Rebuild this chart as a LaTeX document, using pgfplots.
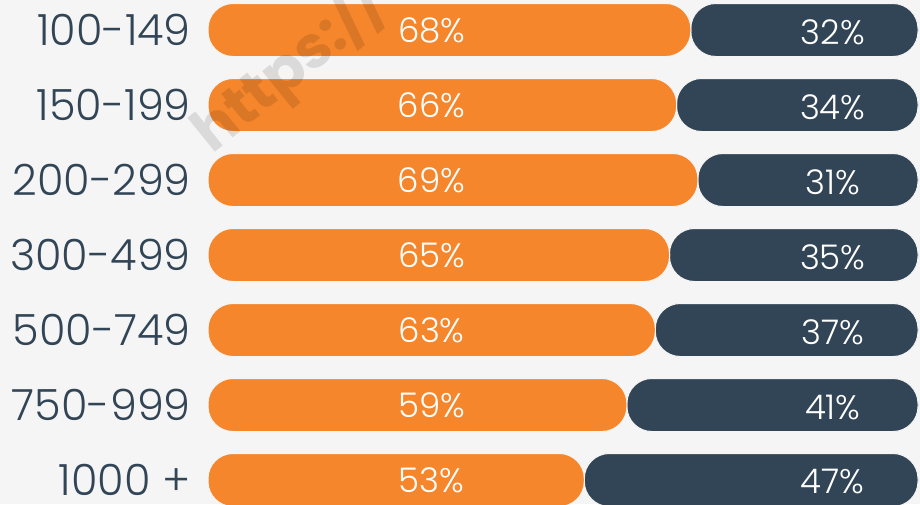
\documentclass[border=0pt]{standalone}
\usepackage{pgfplots}
\pgfplotsset{compat=1.18}
\usepackage{pgfplotstable}
\usepackage{fontspec}
\setmainfont{Poppins Light}
\newfontfamily\wmfont{Poppins}

\definecolor{bgc}{HTML}{F5F5F5}
\definecolor{orangec}{HTML}{F5862B}
\definecolor{darkc}{HTML}{324556}
\definecolor{labelc}{HTML}{324556}

% share of each segment per size band (percent)
\pgfplotstableread{
row a b
0 68 32
1 66 34
2 69 31
3 65 35
4 63 37
5 59 41
6 53 47
}\shares

\begin{document}
\begin{tikzpicture}
\useasboundingbox (0,0) rectangle (920pt,504pt);
\fill[bgc] (0,0) rectangle (920pt,504pt);

\pgfplotsset{
  bandaxis/.style={
    at={(208pt,0pt)}, anchor=south west,
    scale only axis, width=710pt, height=504pt,
    xmin=0, xmax=100, ymin=-0.4, ymax=6.32, y dir=reverse,
  }
}

% stacked pill bars
\begin{axis}[
  bandaxis,
  xbar stacked, bar width=53pt,
  axis line style={draw=none}, major tick length=0pt,
  xtick=\empty, ytick={0,...,6},
  yticklabels={100-149,150-199,200-299,300-499,500-749,750-999,1000 +},
  yticklabel style={font=\fontsize{43}{43}\selectfont, text=labelc,
    anchor=east, inner sep=0pt, xshift=-17pt},
]
\addplot[fill=orangec, draw=bgc, line width=1pt, rounded corners=25pt]
  table[x=a, y=row]{\shares};
\addplot[fill=darkc, draw=bgc, line width=1pt, rounded corners=25pt]
  table[x=b, y=row]{\shares};
\end{axis}

% watermark
\node[rotate=39, anchor=base west, font=\wmfont\bfseries\fontsize{59}{59}\selectfont,
  text=black, opacity=0.11, inner sep=0pt] at (212pt,349pt) {https://};

% value labels
\begin{axis}[bandaxis, hide axis, clip=false]
\addplot[draw=none, mark=none, point meta=explicit symbolic,
  nodes near coords={\pgfplotspointmeta\%}, nodes near coords align=center,
  every node near coord/.append style={font=\fontsize{34}{34}\selectfont, text=white}]
  table[x expr=31.5, y=row, meta=a]{\shares};
\addplot[draw=none, mark=none, point meta=explicit symbolic,
  nodes near coords={\pgfplotspointmeta\%}, nodes near coords align=center,
  every node near coord/.append style={font=\fontsize{34}{34}\selectfont, text=white, yshift=-2pt}]
  table[x expr=88, y=row, meta=b]{\shares};
\end{axis}
\end{tikzpicture}
\end{document}
